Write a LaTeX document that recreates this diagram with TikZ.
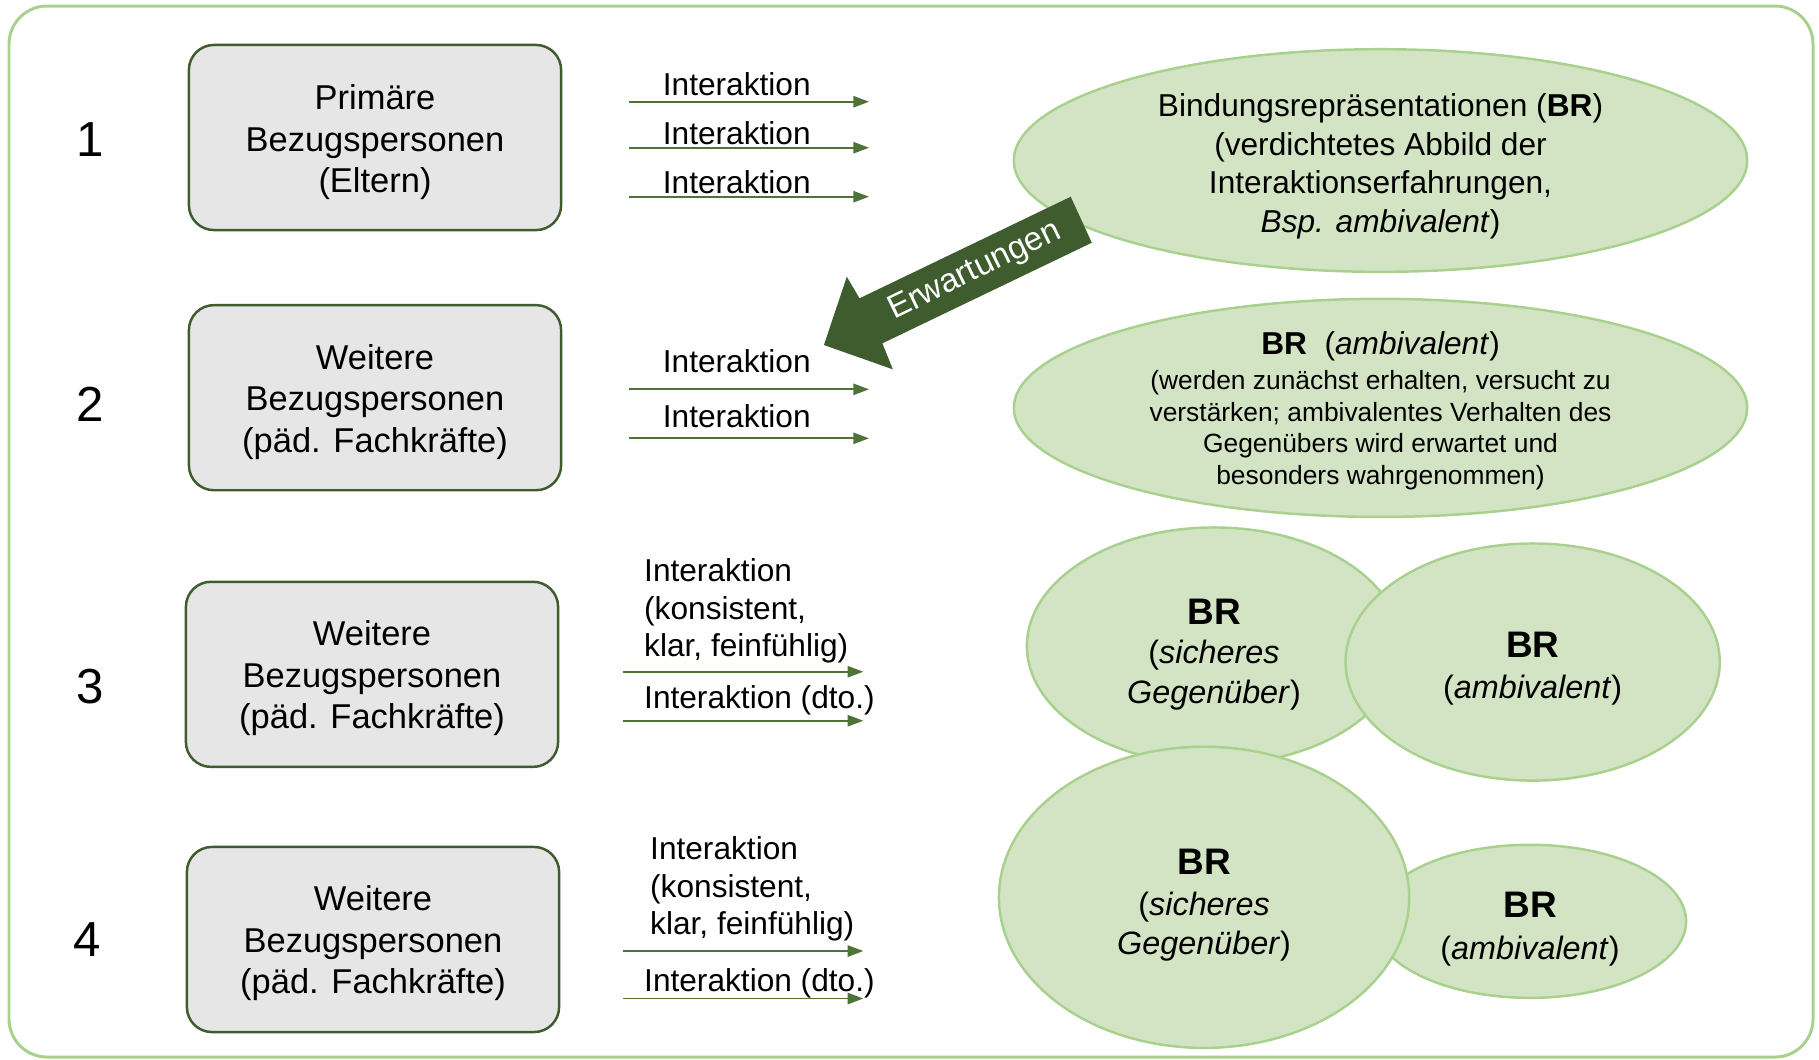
\documentclass[tikz,border=0pt]{standalone}
\usepackage{fontspec}
\setmainfont{Liberation Sans}
\usetikzlibrary{positioning,arrows.meta,shapes.geometric}

\definecolor{rahmengruen}{HTML}{A9D18E}
\definecolor{ellipsengruen}{HTML}{D3E4C5}
\definecolor{dunkelgruen}{HTML}{3E5C2D}
\definecolor{pfeilgruen}{HTML}{4F7236}
\definecolor{boxgrau}{HTML}{E7E6E6}

% unsichtbare Stuetze fuer die erste Textzeile
\newcommand{\hoch}[1]{\rule{0pt}{#1}}

\begin{document}
\begin{tikzpicture}[
            x=0.01cm, y=-0.01cm,
            % --- Stile ---
            rahmen/.style={draw=rahmengruen, line width=0.85pt, rounded corners=0.38cm},
            person/.style={rectangle, draw=dunkelgruen, line width=0.7pt, rounded corners=0.25cm, fill=boxgrau,
                           outer sep=0pt, minimum width=3.72cm, minimum height=1.85cm, align=center,
                           font=\fontsize{9.8}{11.8}\selectfont},
            nummer/.style={font=\fontsize{14}{16}\selectfont},
            br/.style={ellipse, draw=rahmengruen, line width=0.7pt, fill=ellipsengruen, inner sep=0pt,
                       align=center, font=\fontsize{9.2}{11.2}\selectfont},
            line/.style={draw=pfeilgruen, line width=0.5pt, -{Triangle[length=0.157cm, width=0.113cm]}},
            lbl/.style={anchor=south west, inner sep=0pt, align=left, font=\fontsize{9}{10.7}\selectfont}
        ]
    
        % --- Rahmen ---
        \useasboundingbox (0,0) rectangle (1819,1059);
        \draw[rahmen] (9,6) rectangle (1813,1057);
    
        % --- Bezugspersonen ---
        \node[person] (box1) at (375,137.5) {\hoch{9.8pt}Primäre\\Bezugspersonen\\(Eltern)};
        \node[person, below=0.75cm of box1] (box2) {\hoch{9.4pt}Weitere\\Bezugspersonen\\(päd. Fachkräfte)};
        \node[person, below=0.915cm of box2, xshift=-0.03cm] (box3) {\hoch{9.4pt}Weitere\\Bezugspersonen\\(päd. Fachkräfte)};
        \node[person, below=0.8cm of box3, xshift=0.01cm] (box4) {\hoch{9.4pt}Weitere\\Bezugspersonen\\(päd. Fachkräfte)};
    
        % --- Nummern ---
        \node[nummer, left=0.7cm of box1, xshift=-0.03cm, yshift=-0.02cm] (nr1) {1};
        \node[nummer, left=0.7cm of box2, xshift=-0.03cm, yshift=-0.07cm] (nr2) {2};
        \node[nummer, left=0.7cm of box3, yshift=-0.12cm] (nr3) {3};
        \node[nummer, left=0.7cm of box4, xshift=-0.035cm] (nr4) {4};
    
        % --- Interaktionen ---
        \coordinate (a1) at (629,101.7);   \coordinate (b1) at (869,101.7);
        \coordinate (a2) at (629,147.7);   \coordinate (b2) at (869,147.7);
        \coordinate (a3) at (629,196.7);   \coordinate (b3) at (869,196.7);
        \coordinate (a4) at (629,389.3);   \coordinate (b4) at (869,389.3);
        \coordinate (a5) at (629,438.3);   \coordinate (b5) at (869,438.3);
        \coordinate (a6) at (623.3,671.7); \coordinate (b6) at (863.3,671.7);
        \coordinate (a7) at (623.3,720.7); \coordinate (b7) at (863.3,720.7);
        \coordinate (a8) at (623.3,951);   \coordinate (b8) at (863.3,951);
        \coordinate (a9) at (623.3,998.5); \coordinate (b9) at (863.3,998.5);
    
        \path[line] (a1) -- node[lbl, pos=0, xshift=0.33cm, yshift=0.047cm] {Interaktion} (b1);
        \path[line] (a2) -- node[lbl, pos=0, xshift=0.33cm, yshift=0.025cm] {Interaktion} (b2);
        \path[line] (a3) -- node[lbl, pos=0, xshift=0.33cm, yshift=0.02cm] {Interaktion} (b3);
        \path[line] (a4) -- node[lbl, pos=0, xshift=0.33cm, yshift=0.156cm] {Interaktion} (b4);
        \path[line] (a5) -- node[lbl, pos=0, xshift=0.33cm, yshift=0.10cm] {Interaktion} (b5);
        \path[line] (a6) -- node[lbl, pos=0, xshift=0.2cm, yshift=0.075cm] {Interaktion\\(konsistent,\\klar, feinfühlig)} (b6);
        \path[line] (a7) -- node[lbl, pos=0, xshift=0.2cm, yshift=0.044cm] {Interaktion (dto.)} (b7);
        \path[line] (a8) -- node[lbl, pos=0, xshift=0.26cm, yshift=0.089cm] {Interaktion\\(konsistent,\\klar, feinfühlig)} (b8);
        \path[line] (a9) -- node[lbl, pos=0, xshift=0.2cm, yshift=0cm] {Interaktion (dto.)} (b9);
    
        % --- Bindungsrepraesentationen ---
        \node[br, minimum width=7.33cm, minimum height=2.21cm, font=\fontsize{9}{11}\selectfont] (br1) at (1380.5,160.5) {
            \hoch{9.9pt}Bindungsrepräsentationen (\textbf{BR})\\(verdichtetes Abbild der\\Interaktionserfahrungen,\\\textit{Bsp. ambivalent})
        };
        \node[br, below=0.245cm of br1, minimum width=7.33cm, minimum height=2.18cm, inner ysep=-2pt,
              font=\fontsize{7.5}{9}\selectfont] (br2) {
            \hoch{8.2pt}{\fontsize{9}{10.8}\selectfont\textbf{BR}\ \ (\textit{ambivalent})}\\[1pt]
            (werden zunächst erhalten, versucht zu\\verstärken; ambivalentes Verhalten des\\
            Gegenübers wird erwartet und\\besonders wahrgenommen)
        };
        \node[br, minimum width=3.74cm, minimum height=2.37cm] (br3s) at (1214,646) {
            \hoch{12pt}{\fontsize{10.5}{12}\selectfont\bfseries BR}\\[0pt](\textit{sicheres}\\\textit{Gegenüber})
        };
        \node[br, right=-0.58cm of br3s, yshift=-0.16cm, minimum width=3.74cm, minimum height=2.37cm] (br3a) {
            \hoch{11.1pt}{\fontsize{10.5}{12}\selectfont\bfseries BR}\\[0.6pt](\textit{ambivalent})
        };
        \node[br, minimum width=3.12cm, minimum height=1.53cm] (br4a) at (1530,921.3) {
            \hoch{11.7pt}{\fontsize{10.5}{12}\selectfont\bfseries BR}\\[0.6pt](\textit{ambivalent})
        };
        \node[br, left=-0.377cm of br4a, yshift=0.24cm, minimum width=4.1cm, minimum height=3.01cm] (br4s) {
            \hoch{11.7pt}{\fontsize{10.5}{12}\selectfont\bfseries BR}\\[0.3pt](\textit{sicheres}\\\textit{Gegenüber})
        };
    
        % --- Erwartungen (Blockpfeil) ---
        \fill[dunkelgruen] (1070.7,196.7) -- (1091.8,242.7) -- (882.4,343.3) -- (892.8,369.3)
          -- (823.9,345) -- (846.8,276.7) -- (859.5,298.3) -- cycle;
        \node[rotate=25.95, text=white, font=\fontsize{9.4}{11}\selectfont] (erw) at (975,271.5) {Erwartungen};
    
        \end{tikzpicture}
\end{document}
